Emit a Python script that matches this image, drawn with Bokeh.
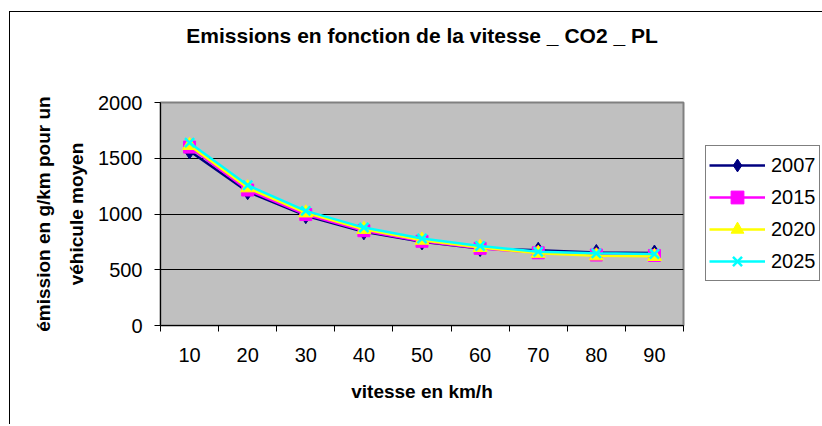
from bokeh.plotting import figure
from bokeh.models import Range1d, FixedTicker, Legend, LegendItem
from bokeh.embed import file_html
from bokeh.resources import INLINE

speed = [10, 20, 30, 40, 50, 60, 70, 80, 90]
e2007 = [1565, 1200, 985, 840, 750, 690, 675, 655, 650]
e2015 = [1600, 1215, 995, 850, 755, 692, 652, 632, 628]
e2020 = [1615, 1235, 1010, 862, 765, 700, 648, 625, 620]
e2025 = [1640, 1258, 1028, 878, 780, 713, 662, 647, 641]
series_names = ["2007", "2015", "2020", "2025"]
y_ticks = [0, 500, 1000, 1500, 2000]
x_bounds = [5, 95]

FONT = "Liberation Sans"

p = figure(frame_width=523, frame_height=223, x_range=Range1d(*x_bounds), y_range=Range1d(0, 2000),
           output_backend="svg", toolbar_location=None,
           min_border_left=150, min_border_right=137, min_border_top=90, min_border_bottom=99,
           background_fill_color="#C0C0C0", border_fill_color="white",
           margin=(11, 0, 0, 9),
           styles={"border-left": "1px solid black", "border-top": "1px solid black"})

p.title.text = "Emissions en fonction de la vitesse _ CO2 _ PL\n \n "
p.title.text_font = FONT
p.title.text_font_size = "21px"
p.title.text_font_style = "bold"
p.title.text_color = "black"
p.title.align = "center"
p.title.text_line_height = 1.2
p.title.standoff = 0

p.outline_line_color = "#808080"
p.outline_line_width = 2

# x axis
xa = p.xaxis[0]
xa.ticker = FixedTicker(ticks=speed, minor_ticks=[s - 5 for s in speed] + [speed[-1] + 5])
xa.major_tick_out = 0
xa.major_tick_in = 0
xa.minor_tick_out = 6
xa.minor_tick_in = 0
xa.minor_tick_line_color = "black"
xa.axis_line_color = "black"
xa.major_label_text_font = FONT
xa.major_label_text_font_size = "20px"
xa.major_label_text_color = "black"
xa.major_label_standoff = 16
xa.axis_label = "vitesse en km/h"
xa.axis_label_text_font = FONT
xa.axis_label_text_font_size = "19px"
xa.axis_label_text_font_style = "bold"
xa.axis_label_text_color = "black"
xa.axis_label_standoff = 16

# y axis
ya = p.yaxis[0]
ya.ticker = FixedTicker(ticks=y_ticks)
ya.major_tick_out = 6
ya.major_tick_in = 0
ya.minor_tick_line_color = None
ya.axis_line_color = "black"
ya.major_label_text_font = FONT
ya.major_label_text_font_size = "20px"
ya.major_label_text_color = "black"
ya.major_label_standoff = 12
ya.axis_label = "émission en g/km pour un\nvéhicule moyen"
ya.axis_label_text_font = FONT
ya.axis_label_text_font_size = "19px"
ya.axis_label_text_font_style = "bold"
ya.axis_label_text_color = "black"
ya.axis_label_text_line_height = 1.55
ya.axis_label_standoff = 8

p.xgrid.grid_line_color = None
p.ygrid.grid_line_color = "black"
p.ygrid.grid_line_width = 1

colors = ["#000080", "#FF00FF", "#FFFF00", "#00FFFF"]
data = [e2007, e2015, e2020, e2025]
items = []
for name, col, vals in zip(series_names, colors, data):
    r_line = p.line(speed, vals, line_color=col, line_width=2.5)
    if name == "2007":
        r_m = p.scatter(speed, vals, marker="diamond", size=16, fill_color=col, line_color=col)
    elif name == "2015":
        r_m = p.scatter(speed, vals, marker="square", size=12, fill_color=col, line_color=col)
    elif name == "2020":
        r_m = p.scatter(speed, vals, marker="triangle", size=14, fill_color=col, line_color=col)
    else:
        r_m = p.scatter(speed, vals, marker="x", size=13, line_color=col, line_width=2.5)
    items.append(LegendItem(label=name, renderers=[r_line, r_m]))

legend = Legend(items=items, location=(22, 44), margin=0, padding=3, spacing=0,
                glyph_width=56, glyph_height=32, label_height=32, label_standoff=6,
                label_text_font=FONT, label_text_font_size="20px", label_text_color="black",
                border_line_color="black", border_line_width=1,
                background_fill_color="white", background_fill_alpha=1)
p.add_layout(legend, "right")

open("out.html", "w").write(file_html(p, INLINE))
